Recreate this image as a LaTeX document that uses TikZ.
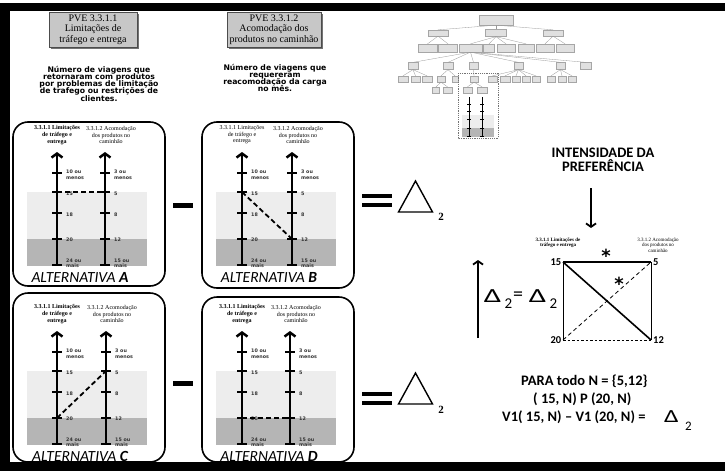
\documentclass[tikz,border=0pt]{standalone}
\usepackage{fontspec}
\setmainfont{Liberation Serif}
\newfontfamily\verdfont{DejaVu Sans}
\newfontfamily\carlfont{Carlito}
\usetikzlibrary{arrows.meta,shadows}
\newcommand\tightlines{\lineskiplimit=-10pt\relax\lineskip=0pt\relax}

% one scale of two axes with its bands, ticks, labels and the chosen link
% #1 letter, #2 box left, #3 box top, #4 box bottom, #5 axis 1 x, #6 axis 2 x,
% #7 first tick y, #8 tick on axis 1, #9 tick on axis 2 joined by the dashed link
\newcommand\altpanel[9]{%
  \fill[lightband] (#2+14,#7+19) rectangle (#2+134,#7+66);
  \fill[darkband]  (#2+14,#7+66) rectangle (#2+134,#7+93);
  \draw[altbox] (#2,#3) rectangle (#2+152,#4);
  \foreach \i/\o in {1/0,2/19,3/40,4/66,5/92}{%
    \coordinate (#1-a-\i) at (#5,#7+\o);
    \coordinate (#1-b-\i) at (#6,#7+\o);
    \draw[tickmark] (#5-5,#7+\o) -- (#5+5,#7+\o);
    \draw[tickmark] (#6-5,#7+\o) -- (#6+5,#7+\o);
  }
  \coordinate (#1-a-top) at (#5,#7-21);
  \coordinate (#1-b-top) at (#6,#7-21);
  \draw[axisline] (#1-a-5) -- (#1-a-top);
  \draw[axisline] (#1-b-5) -- (#1-b-top);
  \node[ticklbl, anchor=north west] (#1-la1) at (#5+9,#7-3) {10 ou\\menos};
  \node[ticklbl, anchor=west] (#1-la2) at (#5+9,#7+21) {15};
  \node[ticklbl, anchor=west] (#1-la3) at (#5+9,#7+42) {18};
  \node[ticklbl, anchor=west] (#1-la4) at (#5+9,#7+67) {20};
  \node[ticklbl, anchor=south west] (#1-la5) at (#5+9,#7+95) {24 ou\\mais};
  \node[ticklbl, anchor=north west] (#1-lb1) at (#6+9,#7-3) {3 ou\\menos};
  \node[ticklbl, anchor=west] (#1-lb2) at (#6+9,#7+21) {5};
  \node[ticklbl, anchor=west] (#1-lb3) at (#6+9,#7+42) {8};
  \node[ticklbl, anchor=west] (#1-lb4) at (#6+9,#7+67) {12};
  \node[ticklbl, anchor=south west] (#1-lb5) at (#6+9,#7+95) {15 ou\\mais};
  \node[axhdr, font=\fontsize{6}{6.6}\selectfont\hdrfont] (#1-ha) at (#5,#7-38) {3.3.1.1 Limitações\\de tráfego e\\entrega};
  \node[axhdr] (#1-hb) at (#6+6,#7-38) {3.3.1.2 Acomodação\\dos produtos no\\caminhão};
  \draw[choice] (#1-a-#8) -- (#1-b-#9);
  \node[altlbl] (#1-alt) at (#2+67,#7+104) {ALTERNATIVA \textbf{#1}};
}

\begin{document}
\begin{tikzpicture}[x=1pt,y=-1pt,
  hdrbox/.style={draw=black!70, fill=black!22, line width=0.8pt, align=center,
    font=\fontsize{10}{10.3}\selectfont, inner sep=0pt,
    drop shadow={shadow xshift=1.5pt, shadow yshift=-1.5pt, fill=black!55, opacity=1}},
  desc/.style={align=center, inner sep=0,
    font=\verdfont\bfseries\fontsize{7.7}{7.2}\selectfont\tightlines},
  altbox/.style={draw=black, line width=1.6pt, rounded corners=15pt},
  axisline/.style={line width=2.5pt, -{Straight Barb[length=4pt,width=11pt]}},
  tickmark/.style={line width=1.3pt},
  ticklbl/.style={font=\verdfont\bfseries\fontsize{4.8}{5.4}\selectfont, text=black!80, align=left, inner sep=0},
  axhdr/.style={font=\fontsize{6}{6.6}\selectfont, align=center, inner sep=0},
  altlbl/.style={font=\carlfont\itshape\fontsize{15.5}{15.5}\selectfont, inner sep=0},
  choice/.style={line width=1.8pt, dash pattern=on 5pt off 3pt},
  lightband/.style={fill=black!7},
  darkband/.style={fill=black!29},
  tb/.style={draw=black!35, fill=black!12, line width=0.3pt, inner sep=0},
  tedge/.style={draw=black!40, line width=0.3pt},
  bar/.style={fill=black},
  bigtri/.style={line width=1.4pt, line join=miter},
  calb/.style={font=\carlfont\bfseries\fontsize{14.5}{14}\selectfont, inner sep=0},
  corner/.style={font=\carlfont\bfseries\fontsize{10.5}{10.5}\selectfont},
  delta/.style={font=\carlfont\fontsize{20}{20}\selectfont, inner sep=0, xscale=1.55},
  subtwo/.style={font=\carlfont\fontsize{15}{15}\selectfont, inner sep=0},
  star/.style={font=\verdfont\bfseries\fontsize{18}{18}\selectfont, inner sep=0, anchor=north},
]
\useasboundingbox (0,0) rectangle (725,471);
\fill[white] (0,0) rectangle (725,471);

% page frame
\fill[bar] (0,3) rectangle (725,11);
\fill[bar] (0,3) rectangle (10,471);
\fill[bar] (0,462) rectangle (725,471);

% criterion headers
\node[hdrbox, minimum width=88pt, minimum height=35pt] (pve1) at (93,29.5)
  {PVE 3.3.1.1\\Limitações de\\tráfego e entrega};
\node[hdrbox, minimum width=94pt, minimum height=35pt] (pve2) at (274,29.5)
  {PVE 3.3.1.2\\Acomodação dos\\produtos no caminhão};

\node[desc, anchor=north] (d1) at (99,66)
  {Número de viagens que\\retornaram com produtos\\por problemas de limitação\\de trafego ou restrições de\\clientes.};
\node[desc, anchor=north] (d2) at (275,64)
  {Número de viagens que\\requereram\\reacomodação da carga\\no mês.};

% the four alternatives
\def\hdrfont{\bfseries}
\altpanel{A}{13}{122}{286}{57}{105}{173}{2}{2}
\def\hdrfont{}
\altpanel{B}{202}{122}{288}{242}{292}{173}{2}{4}
\def\hdrfont{\bfseries}
\altpanel{C}{13}{293}{462}{57}{106}{352}{4}{2}
\altpanel{D}{202}{297}{462}{242}{290}{352}{4}{4}

% minus and equals signs
\fill[bar] (173,203) rectangle (193,208);
\fill[bar] (173,381) rectangle (193,386);
\fill[bar] (362,194) rectangle (392,198);
\fill[bar] (362,203) rectangle (392,207);
\fill[bar] (362,392) rectangle (392,396);
\fill[bar] (362,401) rectangle (392,405);

% difference triangles
\draw[bigtri] (398.5,212) -- (415.5,181) -- (432.5,212) -- cycle;
\node[font=\bfseries\fontsize{11}{11}\selectfont, inner sep=0] (s1) at (441,217) {2};
\draw[bigtri] (398.5,404) -- (415.5,373) -- (432.5,404) -- cycle;
\node[font=\bfseries\fontsize{11}{11}\selectfont, inner sep=0] (s2) at (441,410) {2};

% hierarchy thumbnail
\node[tb, minimum width=34pt, minimum height=10pt] (r0) at (496,20) {};
\node[tb, minimum width=20pt, minimum height=6pt] (r1) at (438,33) {};
\node[tb, minimum width=21pt, minimum height=7pt] (r2) at (496,33) {};
\node[tb, minimum width=20pt, minimum height=6pt] (r3) at (553,33) {};
\foreach \n/\x/\w in {b1/427.5/19, b2/448/19, b3/470.5/23, b4/489/11, b5/506/18, b6/526/16, b7/545/18, b8/565/18}
  \node[tb, minimum width=\w pt, minimum height=8pt] (\n) at (\x,48) {};
\foreach \n/\x/\w in {c1/413/10, c2/448/10, c3/473.5/9, c4/518.5/9, c5/560.5/9, c6/586/11}
  \node[tb, minimum width=\w pt, minimum height=7pt] (\n) at (\x,66) {};
\foreach \n/\x/\w in {d1/403/10, d2/415.5/9, d3/427/10, d4/441/8, d5/455/6, d6/474/8, d7/492.5/9, d8/505/10, d9/516/8, d10/526/8, d11/536/8, d12/551/8, d13/562/8, d14/572/8}
  \node[tb, minimum width=\w pt, minimum height=6pt] (\n) at (\x,79) {};
\foreach \n/\x/\w in {e1/436/7, e2/447.5/9, e3/467.5/9, e4/482/10}
  \node[tb, minimum width=\w pt, minimum height=6pt] (\n) at (\x,90) {};
\foreach \p/\c in {r0/r1, r0/r2, r0/r3, r1/b1, r1/b2, r2/b3, r2/b4, r2/b5, r2/b6, r3/b7, r3/b8,
  b3/c1, b3/c2, b3/c3, b3/c4, b3/c5, b3/c6, c1/d1, c1/d2, c1/d3, c2/d4, c2/d5, c3/d6,
  c4/d7, c4/d8, c4/d9, c4/d10, c4/d11, c5/d12, c5/d13, c5/d14, d4/e1, d4/e2, d6/e3, d6/e4}
  \draw[tedge] (\p.south) -- (\c.north);
\fill[black!7] (462,115) rectangle (494,128);
\fill[black!29] (462,128) rectangle (494,137);
\coordinate (m1t) at (469,97); \coordinate (m1b) at (469,137);
\coordinate (m2t) at (482,97); \coordinate (m2b) at (482,137);
\draw[line width=0.6pt] (m1b) -- (m1t);
\draw[line width=0.6pt] (m2b) -- (m2t);
\foreach \y in {104,111,119,128,136}{
  \draw[line width=0.3pt] (467,\y) -- (471,\y);
  \draw[line width=0.3pt] (480,\y) -- (484,\y);
}
\draw[black!55, line width=0.5pt, dash pattern=on 1.2pt off 1pt] (458,73) rectangle (498,138);

% preference intensity
\node[calb, align=center] (pref) at (603,160)
  {INTENSIDADE DA\\PREFERÊNCIA};
\coordinate (dtop) at (591,188);
\coordinate (dbot) at (591,228);
\draw[line width=1.8pt, -{Straight Barb[length=3.5pt,width=10pt]}] (dtop) -- (dbot);

\coordinate (q15) at (563,262);
\coordinate (q5) at (651,262);
\coordinate (q20) at (563,340);
\coordinate (q12) at (651,340);
\draw[line width=0.8pt] (q15) -- (q20);
\draw[line width=0.8pt] (q5) -- (q12);
\draw[line width=0.8pt, dash pattern=on 2.5pt off 2pt] (q20) -- (q12);
\draw[line width=0.8pt, dash pattern=on 4pt off 3pt] (q20) -- (q5);
\draw[line width=2.2pt] (q15) -- (q5);
\draw[line width=1.6pt] (q15) -- (q12);
\node[corner, anchor=east, inner sep=1.5pt] (n15) at (q15) {15};
\node[corner, anchor=west, inner sep=2pt] (n5) at (q5) {5};
\node[corner, anchor=east, inner sep=1.5pt] (n20) at (q20) {20};
\node[corner, anchor=west, inner sep=2pt] (n12) at (q12) {12};
\node[axhdr, font=\bfseries\fontsize{5}{5.5}\selectfont] (qh1) at (558,243) {3.3.1.1 Limitações de\\tráfego e entrega};
\node[axhdr, font=\fontsize{5}{5.5}\selectfont] (qh2) at (658,245) {3.3.1.2 Acomodação\\dos produtos no\\caminhão};
\node[star] (st1) at (606,249) {*};
\node[star] (st2) at (619,277) {*};

\coordinate (ubot) at (478,338);
\coordinate (utop) at (478,260);
\draw[line width=1.8pt, -{Straight Barb[length=3.5pt,width=10pt]}] (ubot) -- (utop);
\node[delta] (dl1) at (492.5,296.5) {Δ};
\node[subtwo] (dl1s) at (508.5,304) {2};
\node[font=\carlfont\fontsize{20}{20}\selectfont, inner sep=0] (deq) at (518,296) {=};
\node[delta] (dl2) at (537.5,296.5) {Δ};
\node[subtwo] (dl2s) at (553.5,304) {2};

\node[calb, anchor=base west] (p1) at (521,385) {PARA todo N = \{5,12\}};
\node[calb, anchor=base west] (p2) at (533,403) {( 15, N) P (20, N)};
\node[calb, anchor=base west] (p3) at (502,421) {V1( 15, N) – V1 (20, N) =};
\node[delta, font=\carlfont\fontsize{18.5}{18.5}\selectfont, xscale=0.9] (p3d) at (671.5,417) {Δ};
\node[font=\carlfont\fontsize{13}{13}\selectfont, inner sep=0] (p3s) at (688.5,426) {2};
\end{tikzpicture}
\end{document}
